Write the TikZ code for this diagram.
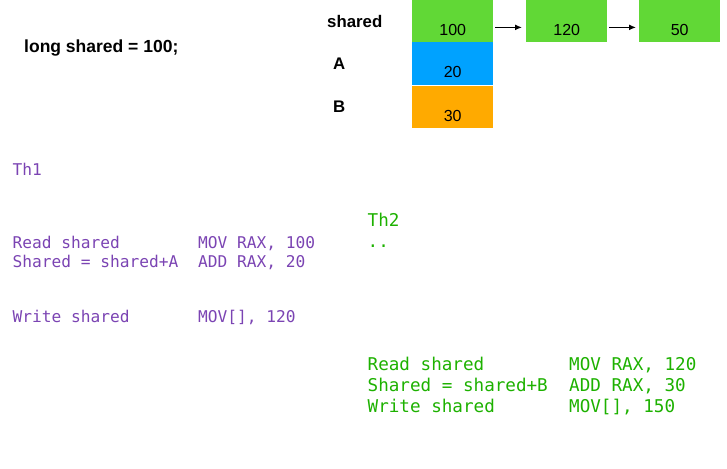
\documentclass[tikz,border=0pt]{standalone}
\usepackage{fontspec}
\setmainfont{Liberation Sans}
\newfontfamily\codefont{DejaVu Sans Mono}
\usetikzlibrary{positioning,arrows.meta}

\definecolor{cellgreen}{HTML}{61D836}
\definecolor{cellblue}{HTML}{00A2FF}
\definecolor{cellorange}{HTML}{FFAA00}
\definecolor{thonecol}{HTML}{7B44B3}
\definecolor{thtwocol}{HTML}{1DB100}

\begin{document}
\begin{tikzpicture}[
    x=1pt, y=-1pt,
    cell/.style={anchor=north west, minimum width=81pt, minimum height=42pt,
        inner sep=0pt, text height=28pt, text depth=0pt,
        font=\fontsize{16}{18}\selectfont},
    varname/.style={anchor=base west, inner sep=0pt,
        font=\bfseries\fontsize{16.8}{19}\selectfont},
    codeone/.style={anchor=base west, inner sep=0pt, text=thonecol,
        font=\codefont\fontsize{16.2}{19}\selectfont},
    codetwo/.style={anchor=base west, inner sep=0pt, text=thtwocol,
        font=\codefont\fontsize{17.6}{21}\selectfont},
    link/.style={-{Latex[length=7pt,width=6pt]}, line width=1.3pt},
]
    \useasboundingbox (0, 0) rectangle (727, 468);

    % declaration
    \node[varname, font=\bfseries\fontsize{17.5}{20}\selectfont] (decl)
        at (24, 53) {long shared = 100;};

    % memory cells
    \node[varname] (lshared) at (327, 28) {shared};
    \node[varname] (lA) at (333, 70) {A};
    \node[varname] (lB) at (333, 113) {B};

    \node[cell, fill=cellgreen] (v100) at (412, 0) {100};
    \node[cell, fill=cellblue, minimum height=43pt] (vA) at (412, 42) {20};
    \node[cell, fill=cellorange] (vB) at (412, 86) {30};
    \node[cell, fill=cellgreen] (v120) at (526, 0) {120};
    \node[cell, fill=cellgreen] (v50) at (639, 0) {50};

    \draw[link] ([xshift=2pt, yshift=15pt]v100.south east)
        -- ([xshift=-4pt, yshift=15pt]v120.south west);
    \draw[link] ([xshift=2pt, yshift=15pt]v120.south east)
        -- ([xshift=-3pt, yshift=15pt]v50.south west);

    % thread 1
    \node[codeone] (tone) at (12.5, 175) {Th1};
    \node[codeone] (toneread) at (12.5, 248) {Read shared};
    \node[codeone] (toneadd) at (12.5, 267) {Shared = shared+A};
    \node[codeone] (tonewrite) at (12.5, 322) {Write shared};
    \node[codeone] (tonereadasm) at (198, 248) {MOV RAX, 100};
    \node[codeone] (toneaddasm) at (198, 267) {ADD RAX, 20};
    \node[codeone] (tonewriteasm) at (198, 322) {MOV[], 120};

    % thread 2
    \node[codetwo] (ttwo) at (367.5, 226.5) {Th2};
    \node[codetwo] (ttwodots) at (367.5, 247) {..};
    \node[codetwo] (ttworead) at (367.5, 370.5) {Read shared};
    \node[codetwo] (ttwoadd) at (367.5, 391) {Shared = shared+B};
    \node[codetwo] (ttwowrite) at (367.5, 412) {Write shared};
    \node[codetwo] (ttworeadasm) at (569, 370.5) {MOV RAX, 120};
    \node[codetwo] (ttwoaddasm) at (569, 391) {ADD RAX, 30};
    \node[codetwo] (ttwowriteasm) at (569, 412) {MOV[], 150};
\end{tikzpicture}
\end{document}
